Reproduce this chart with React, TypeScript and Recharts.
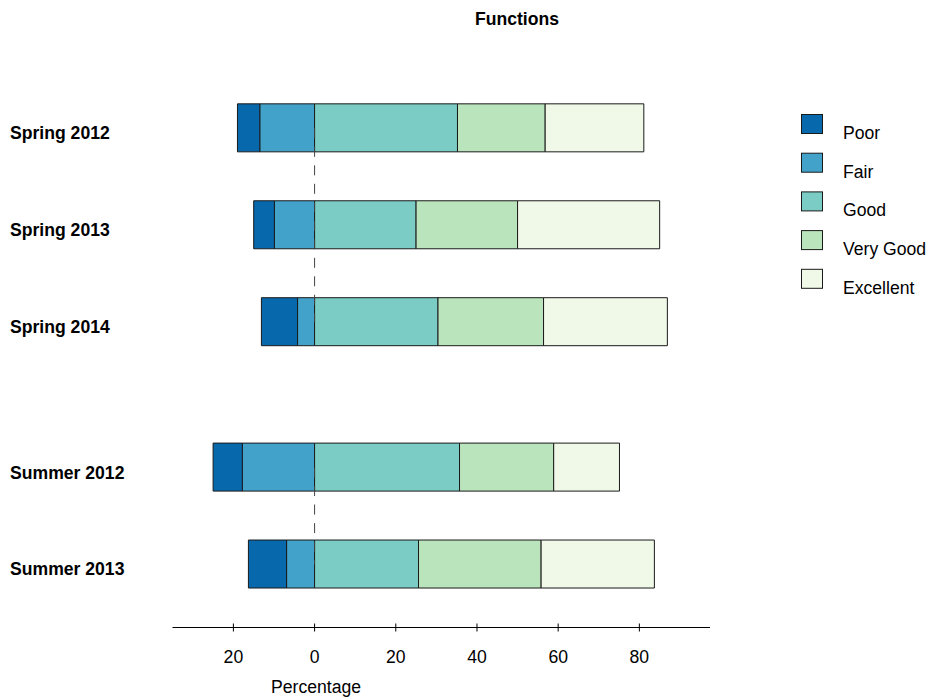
import React from 'react';
import { BarChart, Bar, XAxis, YAxis, ReferenceLine } from 'recharts';

const categories = ['Spring 2012', 'Spring 2013', 'Spring 2014', 'Summer 2012', 'Summer 2013'];
const seasons = ['Spring', 'Spring', 'Spring', 'Summer', 'Summer'];
const poor = [5.5, 5.1, 8.9, 7.2, 9.4];
const fair = [13.5, 9.9, 4.2, 17.8, 6.9];
const good = [35.2, 25.0, 30.4, 35.7, 25.6];
const veryGood = [21.6, 25.0, 26.0, 23.2, 30.2];
const excellent = [24.3, 35.0, 30.5, 16.2, 27.9];
const levels = ['Poor', 'Fair', 'Good', 'Very Good', 'Excellent'];
const xTicks = [-20, 0, 20, 40, 60, 80];
const title = 'Functions';
const xLabel = 'Percentage';

const COLORS: Record<string, string> = {
  Poor: '#0868ac',
  Fair: '#43a2ca',
  Good: '#7bccc4',
  'Very Good': '#bae4bc',
  Excellent: '#f0f9e8',
};

const FONT = '"Liberation Sans", Arial, Helvetica, sans-serif';
const FS = 17.6;

// row positions: half a row of space between season groups
const positions: number[] = [];
{
  let shift = 0;
  categories.forEach((_, i) => {
    if (i > 0 && seasons[i] !== seasons[i - 1]) shift += 0.5;
    positions.push(i + 1 + shift);
  });
}

const data = categories.map((c, i) => ({
  name: c,
  pos: positions[i],
  Poor: -poor[i],
  Fair: -fair[i],
  Good: good[i],
  'Very Good': veryGood[i],
  Excellent: excellent[i],
}));

// vertical dashed zero-line segments, one per season group
const groups: { from: number; to: number }[] = [];
seasons.forEach((s, i) => {
  if (i === 0 || s !== seasons[i - 1]) groups.push({ from: positions[i], to: positions[i] });
  else groups[groups.length - 1].to = positions[i];
});

const YTick = (props: any) => {
  const { y, payload } = props;
  const idx = positions.indexOf(payload.value);
  return (
    <text x={10} y={y + 11} fontWeight="bold" fontSize={FS} fontFamily={FONT} fill="#000">
      {categories[idx]}
    </text>
  );
};

const XTick = (props: any) => {
  const { x, y, payload } = props;
  const axisY = y - 6;
  return (
    <g>
      <line x1={x} x2={x} y1={axisY - 4} y2={axisY + 4} stroke="#000" strokeWidth={1} />
      <text x={x} y={axisY + 35.2} textAnchor="middle" fontSize={FS} fontFamily={FONT} fill="#000">
        {Math.abs(payload.value)}
      </text>
    </g>
  );
};

const stackOrder = ['Fair', 'Poor', 'Good', 'Very Good', 'Excellent'];

export default function App() {
  return (
    <div style={{ position: 'absolute', left: 0, top: 0, width: 935, height: 700, background: '#fff' }}>
      <BarChart
        width={935}
        height={700}
        data={data}
        layout="vertical"
        stackOffset="sign"
        margin={{ top: 65.3, right: 225, left: 10, bottom: 12.5 }}
      >
        <XAxis
          type="number"
          domain={[-35, 97.4]}
          allowDataOverflow
          ticks={xTicks}
          tick={<XTick />}
          tickLine={false}
          tickSize={4}
          tickMargin={2}
          axisLine={{ stroke: '#000', strokeWidth: 1 }}
          height={60}
        />
        <YAxis
          type="number"
          dataKey="pos"
          domain={[0.35, 6.15]}
          allowDataOverflow
          ticks={positions}
          tick={<YTick />}
          axisLine={false}
          tickLine={false}
          width={162.5}
        />
        {groups.map((g, i) => (
          <ReferenceLine
            key={i}
            segment={[{ x: 0, y: g.from }, { x: 0, y: g.to }]}
            stroke="#444"
            strokeDasharray="10 8.5"
            strokeWidth={1}
          />
        ))}
        {stackOrder.map((k) => (
          <Bar
            key={k}
            dataKey={k}
            stackId="a"
            fill={COLORS[k]}
            stroke="#1a1a1a"
            strokeWidth={1}
            barSize={48}
            isAnimationActive={false}
          />
        ))}
      </BarChart>
      <svg
        width={935}
        height={700}
        style={{ position: 'absolute', left: 0, top: 0, pointerEvents: 'none' }}
      >
        <text x={517} y={25} textAnchor="middle" fontWeight="bold" fontSize={FS} fontFamily={FONT} fill="#000">
          {title}
        </text>
        <text x={316} y={693.3} textAnchor="middle" fontSize={FS} fontFamily={FONT} fill="#000">
          {xLabel}
        </text>
        {levels.map((l, i) => (
          <g key={l}>
            <rect
              x={801.5}
              y={114.5 + i * 38.7}
              width={21}
              height={19}
              fill={COLORS[l]}
              stroke="#1a1a1a"
              strokeWidth={1}
            />
            <text x={843} y={139 + i * 38.7} fontSize={FS} fontFamily={FONT} fill="#000">
              {l}
            </text>
          </g>
        ))}
      </svg>
    </div>
  );
}
